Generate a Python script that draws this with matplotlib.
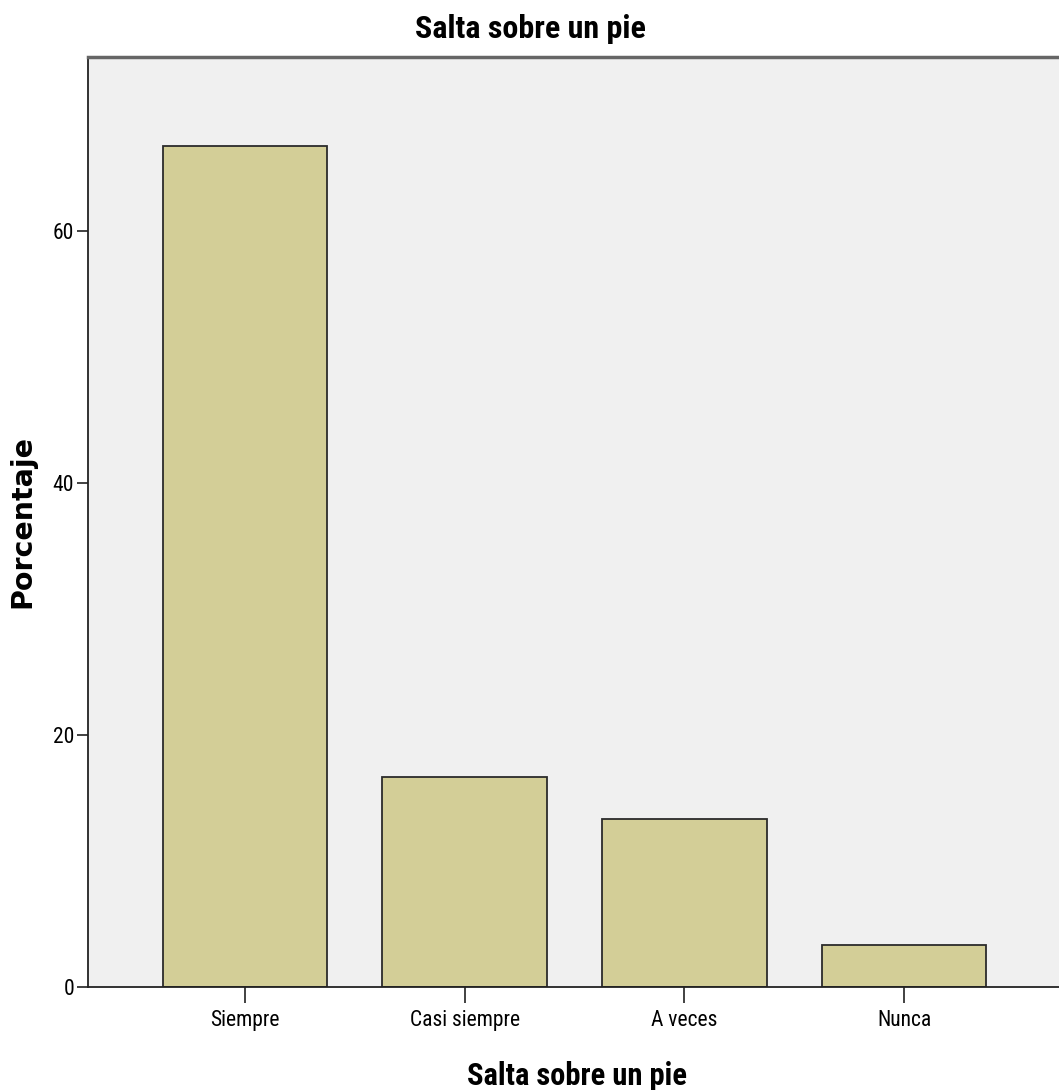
import matplotlib.pyplot as plt
from matplotlib import font_manager as fm

categorias = ['Siempre', 'Casi siempre', 'A veces', 'Nunca']
porcentajes = [66.7, 16.7, 13.3, 3.3]
ticks_y = [0, 20, 40, 60]

# fuente estrecha parecida a Arial Narrow
instaladas = set(f.name for f in fm.fontManager.ttflist)
narrow = 'DejaVu Sans'
for nombre in ['Liberation Sans Narrow', 'Arial Narrow', 'Roboto Condensed', 'Archivo Narrow', 'PT Sans Narrow']:
    if nombre in instaladas:
        narrow = nombre
        break


def fp(size, bold=False):
    return fm.FontProperties(family=narrow, size=size, weight='bold' if bold else 'normal')


fig = plt.figure(figsize=(10.59, 10.9), dpi=100)
ax = fig.add_axes([88/1059, 103/1090, 1 - 88/1059 + 0.002, (987-57)/1090])
ax.set_facecolor('#f0f0f0')

x = range(len(categorias))
ax.bar(x, porcentajes, width=0.75, color='#d3ce97', edgecolor='#2b2b2b', linewidth=1.3)

ax.set_xlim(-0.715, 3.715)
ax.set_ylim(0, 73.8)
ax.set_yticks(ticks_y)
ax.set_yticklabels([str(t) for t in ticks_y], fontproperties=fp(15.5))
ax.set_xticks(list(x))
ax.set_xticklabels(categorias, fontproperties=fp(15.5))
ax.tick_params(axis='y', length=8, width=1.3, color='#333333', pad=2)
ax.tick_params(axis='x', length=11.5, width=1.3, color='#333333', pad=5)

for s in ['left', 'bottom']:
    ax.spines[s].set_color('#222222')
    ax.spines[s].set_linewidth(1.3)
ax.spines['top'].set_color('#666666')
ax.spines['top'].set_linewidth(2.5)
ax.spines['right'].set_visible(False)

fig.text(530/1059, 1 - 38/1090, 'Salta sobre un pie', fontproperties=fp(23, True),
         ha='center', va='baseline')
fig.text(577/1059, 1 - 1085/1090, 'Salta sobre un pie', fontproperties=fp(22, True),
         ha='center', va='baseline')
ax.set_ylabel('Porcentaje', family='DejaVu Sans', fontsize=20.5, fontweight='bold', labelpad=12)

fig.savefig('out.png', dpi=100)
